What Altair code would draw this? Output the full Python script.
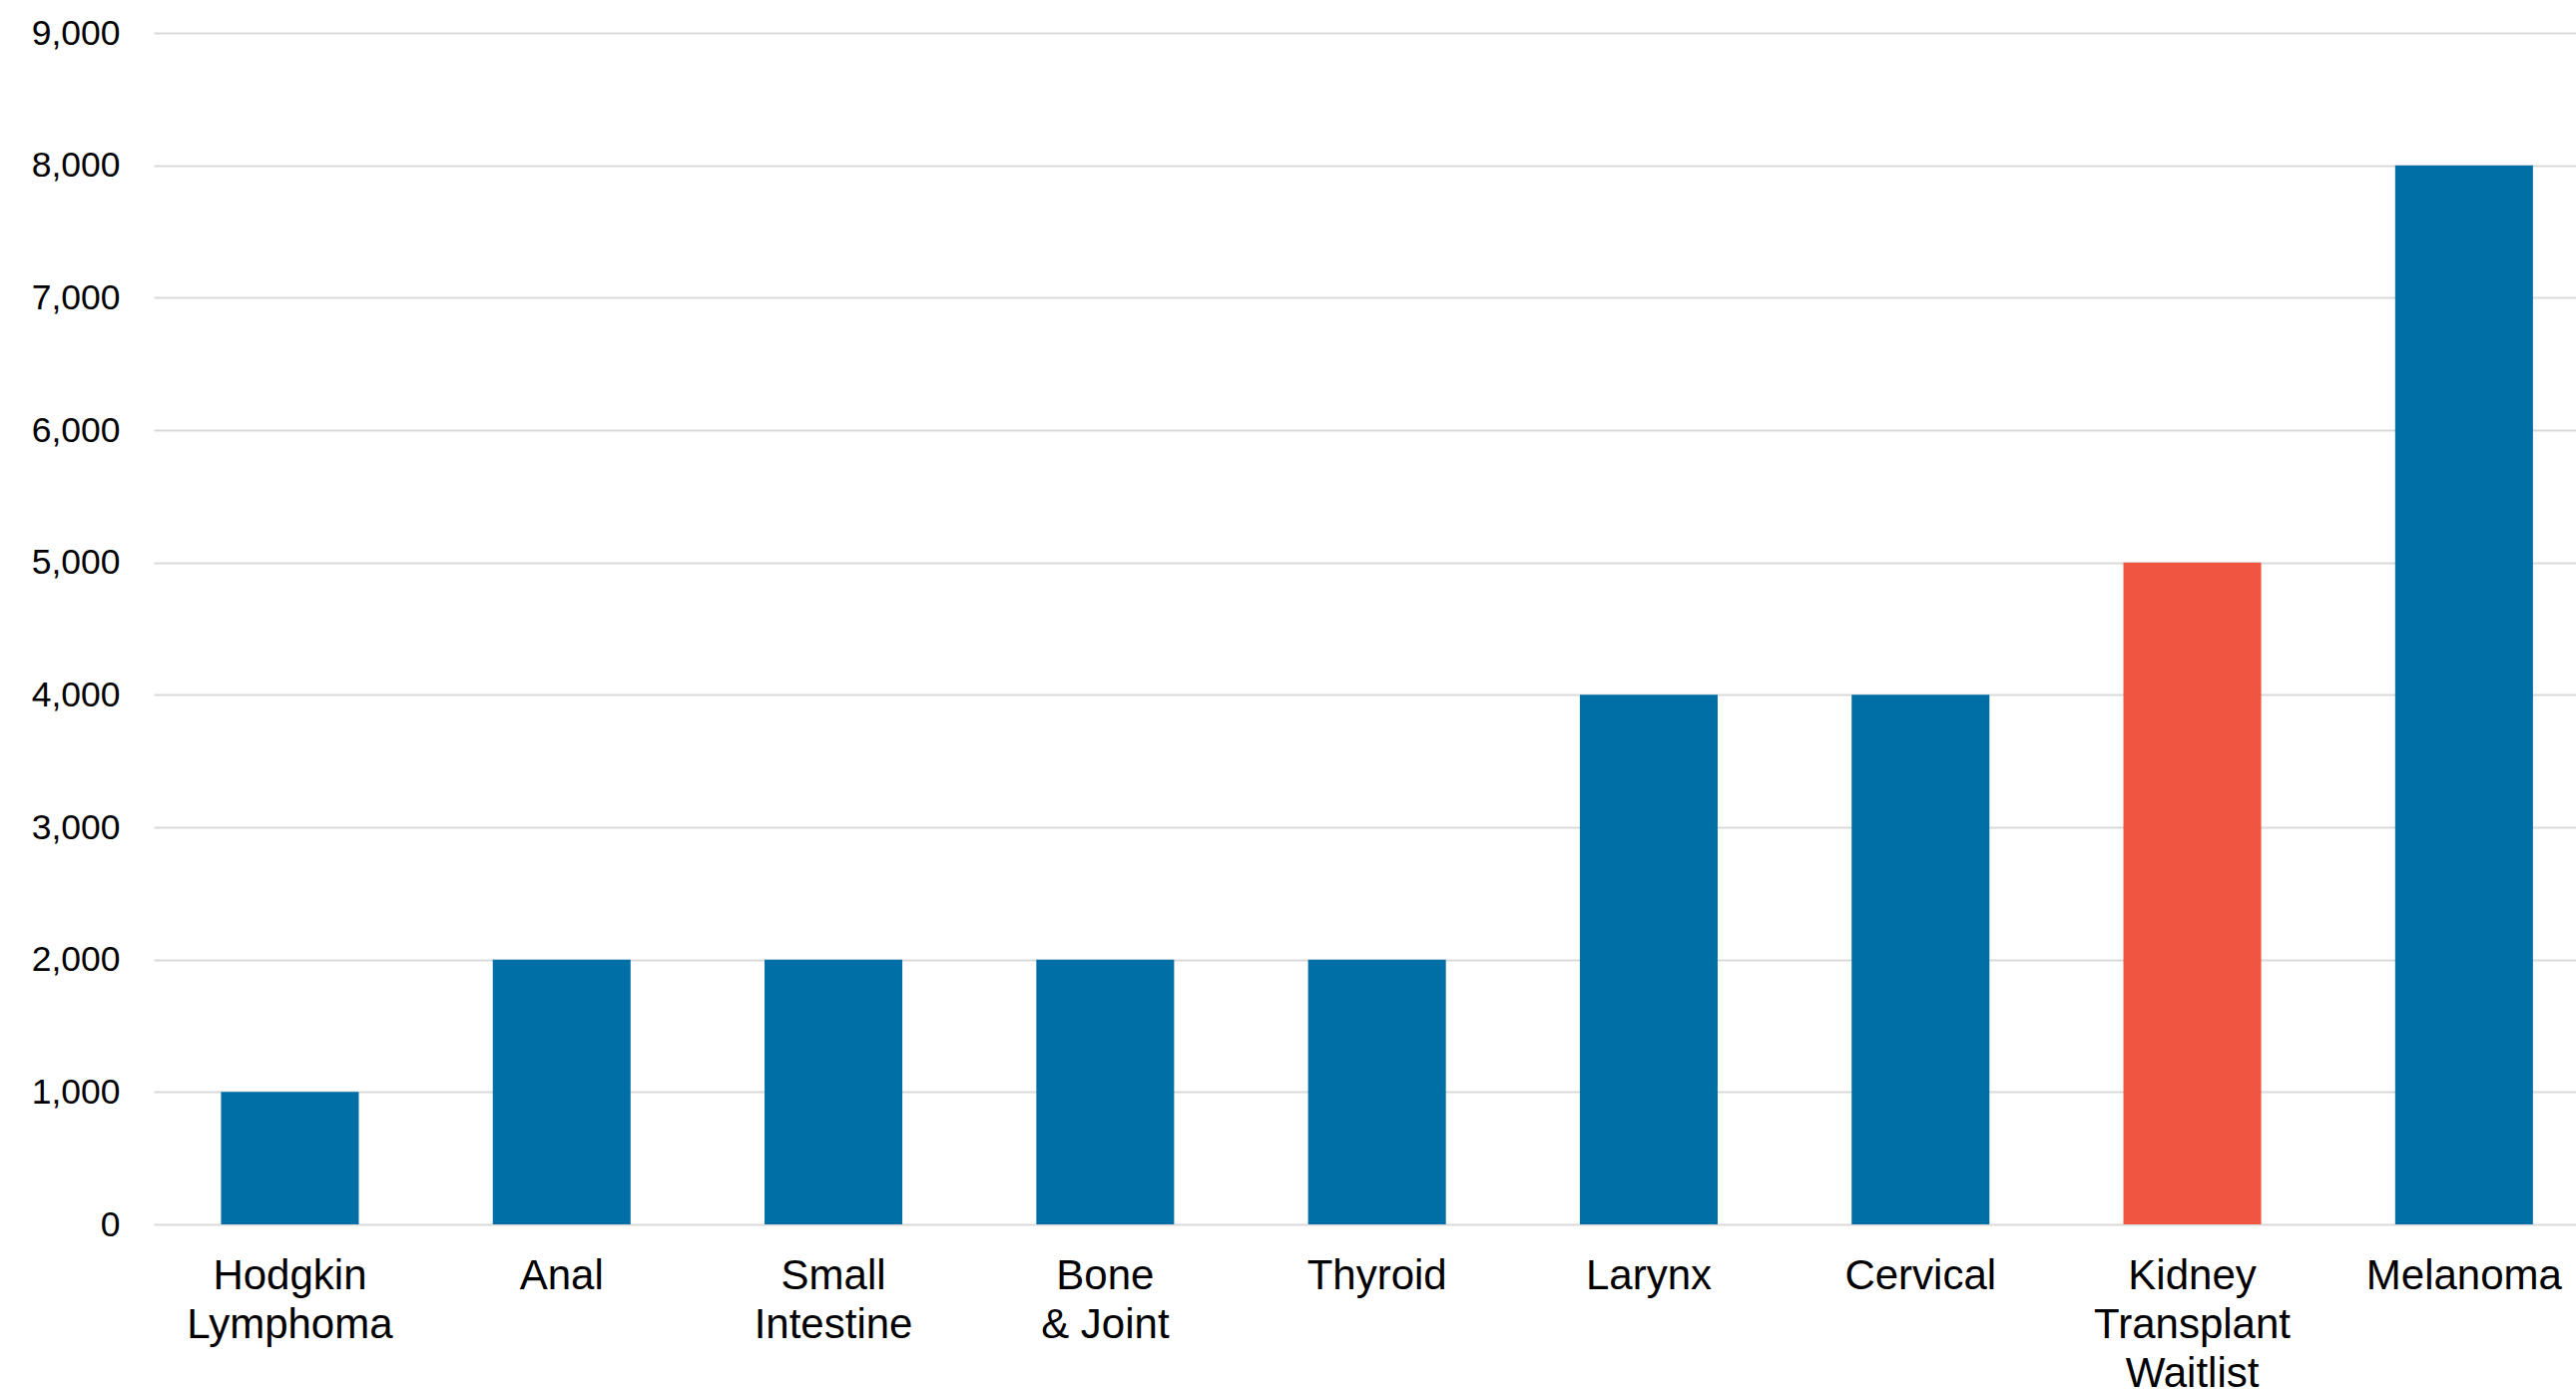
import altair as alt
import pandas as pd

# Category labels ("|" marks a line break in the axis label)
categories = [
    "Hodgkin|Lymphoma",
    "Anal",
    "Small|Intestine",
    "Bone|& Joint",
    "Thyroid",
    "Larynx",
    "Cervical",
    "Kidney|Transplant|Waitlist",
    "Melanoma",
]
values = [1000, 2000, 2000, 2000, 2000, 4000, 4000, 5000, 8000]
groups = ["cancer"] * 7 + ["waitlist", "cancer"]
y_ticks = [0, 1000, 2000, 3000, 4000, 5000, 6000, 7000, 8000, 9000]

df = pd.DataFrame({"category": categories, "value": values, "group": groups})

font = "Liberation Sans"

chart = (
    alt.Chart(df)
    .mark_bar()
    .encode(
        x=alt.X(
            "category:N",
            sort=categories,
            scale=alt.Scale(paddingInner=0.493, paddingOuter=0.203, align=0.61),
            axis=alt.Axis(
                title=None,
                labelAngle=0,
                labelExpr="split(datum.label, '|')",
                labelFont=font,
                labelFontSize=42,
                labelLineHeight=49,
                labelColor="#000000",
                labelPadding=31,
                labelBaseline="top",
                labelLimit=1000,
                ticks=False,
                domain=False,
                grid=False,
            ),
        ),
        y=alt.Y(
            "value:Q",
            scale=alt.Scale(domain=[0, 9000], nice=False),
            axis=alt.Axis(
                title=None,
                values=y_ticks,
                format=",d",
                labelFont=font,
                labelFontSize=35.5,
                labelColor="#000000",
                labelPadding=34,
                labelLimit=1000,
                ticks=False,
                domain=False,
                grid=True,
                gridColor="#d9d9d9",
                gridWidth=2,
            ),
        ),
        color=alt.Color(
            "group:N",
            scale=alt.Scale(domain=["cancer", "waitlist"], range=["#006fa6", "#ef5540"]),
            legend=None,
        ),
    )
    .properties(
        width=2427,
        height=1194,
        padding={"left": 154, "top": 33, "right": 0, "bottom": 167},
        autosize=alt.AutoSizeParams(type="none"),
        background="#ffffff",
    )
    .configure_view(stroke=None, strokeWidth=0)
)

chart.save("out.html", embed_options={"renderer": "svg", "actions": False})
